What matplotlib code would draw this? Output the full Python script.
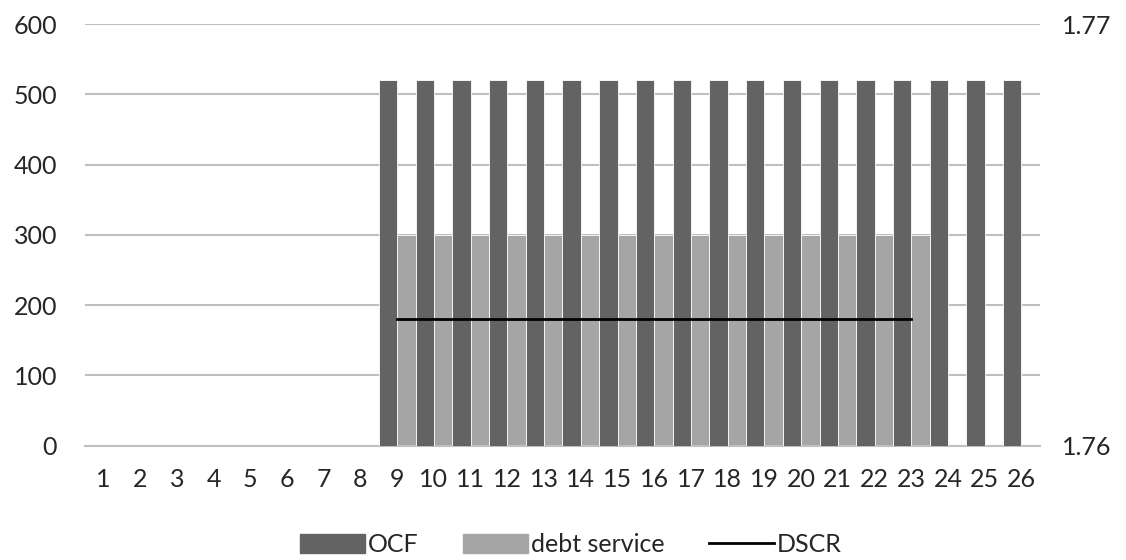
import matplotlib.pyplot as plt
from matplotlib.patches import Patch
from matplotlib.lines import Line2D
import numpy as np

plt.rcParams['font.family'] = ['Lato', 'DejaVu Sans']

years = list(range(1, 27))
ocf = [0]*8 + [520]*18
debt_service = [0]*8 + [300]*15 + [0]*3
dscr_years = list(range(9, 24))
dscr = [1.763]*15

c_ocf = '#636363'
c_debt = '#a5a5a5'
c_grid = '#bfbfbf'
c_text = '#262626'

fig = plt.figure(figsize=(11.26, 5.6), dpi=100)
ax = fig.add_axes([0.0755, 0.204, 0.848, 0.753])

x = np.array(years)
w = 0.5
ax.bar(x - 0.25, ocf, width=w, color=c_ocf, edgecolor='white', linewidth=0.6, zorder=3)
ax.bar(x + 0.25, debt_service, width=w, color=c_debt, edgecolor='white', linewidth=0.6, zorder=2)

ax.set_xlim(0.5, 26.5)
ax.set_ylim(0, 600)
ax.set_yticks(range(0, 601, 100))
ax.set_xticks(years)
ax.set_xticklabels([str(y) for y in years])
ax.yaxis.grid(True, color=c_grid, lw=1.5, zorder=0)
for s in ['top', 'right', 'left']:
    ax.spines[s].set_visible(False)
ax.spines['bottom'].set_color(c_grid)
ax.spines['bottom'].set_linewidth(1.5)
ax.tick_params(length=0, labelsize=18, colors=c_text)
ax.tick_params(axis='y', pad=20)
ax.tick_params(axis='x', pad=16)

# DSCR on its own scale at the right
ax2 = ax.twinx()
ax2.set_ylim(1.76, 1.77)
ax2.set_yticks([1.76, 1.77])
ax2.set_yticklabels(['1.76', '1.77'])
ax2.plot(dscr_years, dscr, color='black', lw=2, zorder=5)
for s in ax2.spines.values():
    s.set_visible(False)
ax2.tick_params(length=0, labelsize=18, colors=c_text, pad=16)

handles = [Patch(color=c_ocf), Patch(color=c_debt), Line2D([], [], color='black', lw=2)]
fig.legend(handles, ['OCF', 'debt service', 'DSCR'], loc='center', bbox_to_anchor=(0.507, 0.027),
           ncol=3, frameon=False, fontsize=18, handlelength=2.6, handleheight=0.8,
           handletextpad=0.1, columnspacing=1.8, labelcolor=c_text)

fig.savefig('out.png', dpi=100)
